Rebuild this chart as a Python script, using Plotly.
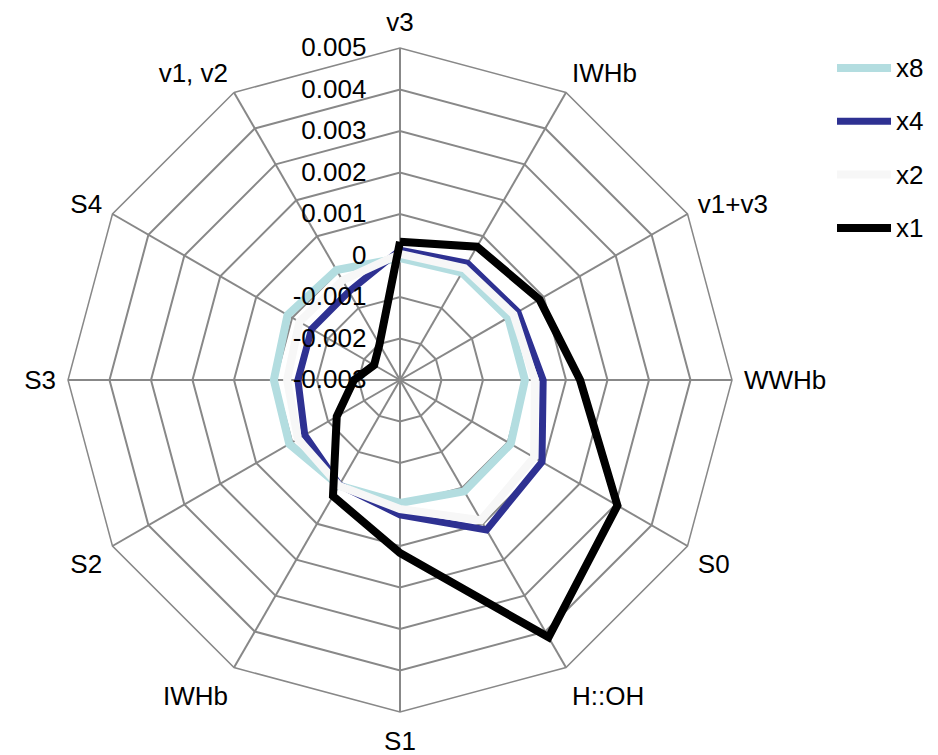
import plotly.graph_objects as go

# Spectral categories around the radar, clockwise from the top
categories = ["v3", "IWHb", "v1+v3", "WWHb", "S0", "H::OH",
              "S1", "IWHb", "S2", "S3", "S4", "v1, v2"]

# Series values per category
x8 = [-0.00006, -0.00001, 0.00001, 0.00001, 0.00008, 0.00010,
      -0.00004, -0.00006, 0.00008, 0.00004, 0.00013, 0.00006]
x4 = [0.00013, 0.00025, 0.00028, 0.00045, 0.00095, 0.00117,
      0.00025, -0.00008, -0.00035, -0.00054, -0.00054, -0.00054]
x2 = [0.00004, 0.00011, 0.00016, 0.00025, 0.00073, 0.00090,
      0.00011, -0.00006, -0.00016, -0.00028, -0.00020, -0.00023]
x1 = [0.00033, 0.00071, 0.00088, 0.00134, 0.00305, 0.00416,
      0.00117, 0.00023, -0.00124, -0.00189, -0.00228, -0.00201]

radial_ticks = [-0.003, -0.002, -0.001, 0, 0.001, 0.002, 0.003, 0.004, 0.005]
radial_labels = ["-0.003", "-0.002", "-0.001", "0", "0.001", "0.002",
                 "0.003", "0.004", "0.005"]

# "IWHb" appears twice, so each spoke gets a unique key and shows its label
keys = [f"c{i}" for i in range(len(categories))]

series = [
    ("x8", x8, "#b3dde0", 8),
    ("x4", x4, "#2e3192", 7),
    ("x2", x2, "#f7f7f7", 8),
    ("x1", x1, "#000000", 8),
]

FONT = "Liberation Sans, Arial, sans-serif"
GRID = "#888888"
FS = 26
CLEAR = "rgba(0,0,0,0)"

fig = go.Figure()
for name, vals, color, width in series:
    fig.add_trace(go.Scatterpolar(
        r=vals + vals[:1],
        theta=keys + keys[:1],
        mode="lines",
        name=name,
        showlegend=False,
        line=dict(color=color, width=width),
    ))

# Legend: a thick line sample and the series name for each trace
legend_top = 68
legend_step = 53.3
for i, (name, vals, color, width) in enumerate(series):
    y = 1 - (legend_top + i * legend_step) / 755
    fig.add_shape(type="line", xref="paper", yref="paper",
                  x0=837 / 938, x1=891 / 938, y0=y, y1=y,
                  line=dict(color=color, width=width))
    fig.add_annotation(xref="paper", yref="paper", x=894 / 938, y=y,
                       text=name, showarrow=False, xanchor="left",
                       yanchor="middle",
                       font=dict(family=FONT, size=FS, color="black"))

fig.update_layout(
    width=938,
    height=755,
    margin=dict(l=0, r=0, t=0, b=0),
    paper_bgcolor="white",
    plot_bgcolor="white",
    showlegend=False,
    font=dict(family=FONT, size=FS, color="black"),
    polar=dict(
        domain=dict(x=[68 / 938, 732 / 938], y=[1 - 712 / 755, 1 - 48 / 755]),
        bgcolor="white",
        gridshape="linear",
        angularaxis=dict(
            type="category",
            categoryorder="array",
            categoryarray=keys,
            direction="clockwise",
            rotation=90,
            tickmode="array",
            tickvals=keys,
            ticktext=categories,
            showgrid=True,
            gridcolor=GRID,
            gridwidth=1.5,
            showline=True,
            linecolor=GRID,
            linewidth=1.5,
            ticks="outside",
            ticklen=6,
            tickcolor=CLEAR,
            tickfont=dict(family=FONT, size=FS, color="black"),
        ),
        radialaxis=dict(
            range=[-0.003, 0.005],
            angle=90,
            tickangle=90,
            side="counterclockwise",
            tickmode="array",
            tickvals=radial_ticks,
            ticktext=radial_labels,
            showgrid=True,
            gridcolor=GRID,
            gridwidth=1.5,
            showline=False,
            ticks="outside",
            ticklen=24,
            tickcolor=CLEAR,
            tickfont=dict(family=FONT, size=FS, color="black"),
        ),
    ),
)

fig.write_html("out.html")
